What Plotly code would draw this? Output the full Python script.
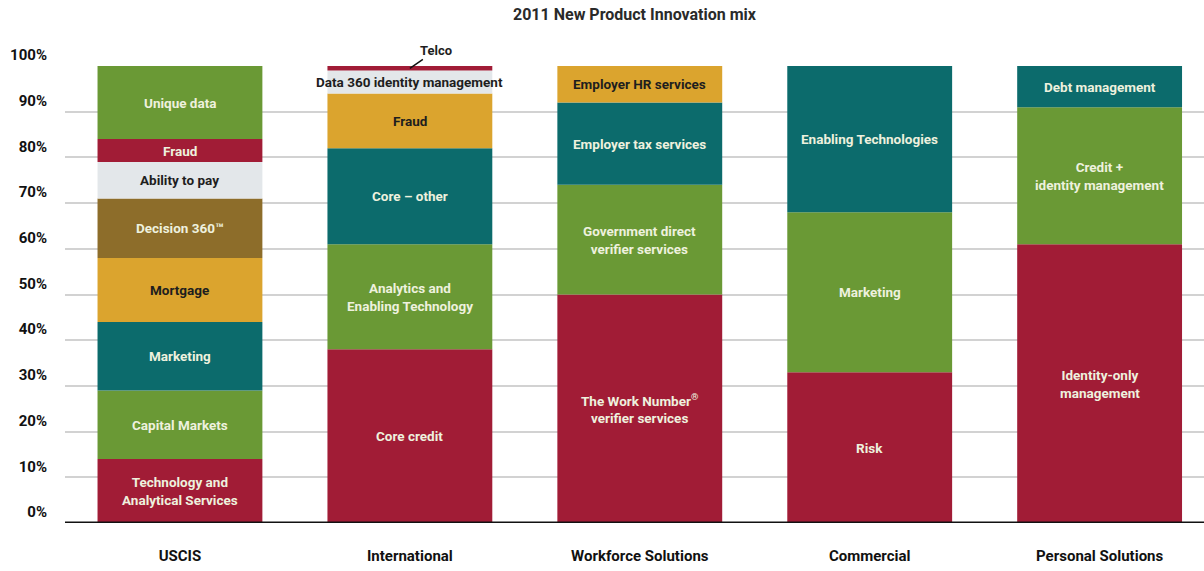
import plotly.graph_objects as go

# Business units along the x axis
categories = ["USCIS", "International", "Workforce Solutions", "Commercial", "Personal Solutions"]

# Segments of each stacked bar, listed bottom to top (percent of the unit's mix)
uscis_labels = ["Technology and<br>Analytical Services", "Capital Markets", "Marketing", "Mortgage",
                "Decision 360™", "Ability to pay", "Fraud", "Unique data"]
uscis_values = [14, 15, 15, 14, 13, 8, 5, 16]
uscis_colors = ["red", "green", "teal", "gold", "brown", "light", "red", "green"]

intl_labels = ["Core credit", "Analytics and<br>Enabling Technology", "Core – other", "Fraud",
               "Data 360 identity management", "Telco"]
intl_values = [38, 23, 21, 12, 5, 1]
intl_colors = ["red", "green", "teal", "gold", "light", "red"]

workforce_labels = ["The Work Number<sup>®</sup><br>verifier services", "Government direct<br>verifier services",
                    "Employer tax services", "Employer HR services"]
workforce_values = [50, 24, 18, 8]
workforce_colors = ["red", "green", "teal", "gold"]

commercial_labels = ["Risk", "Marketing", "Enabling Technologies"]
commercial_values = [33, 35, 32]
commercial_colors = ["red", "green", "teal"]

personal_labels = ["Identity-only<br>management", "Credit +<br>identity management", "Debt management"]
personal_values = [61, 30, 9]
personal_colors = ["red", "green", "teal"]

y_ticks = [0, 10, 20, 30, 40, 50, 60, 70, 80, 90, 100]
y_tick_text = [f"{v}%" for v in y_ticks]

palette = {
    "red": "#A11C36",
    "green": "#6A9935",
    "teal": "#0C6B6C",
    "gold": "#DBA42E",
    "brown": "#8D6D2A",
    "light": "#E3E7EA",
}
light_text = "#EEF1DE"
dark_text = "#1E1E1E"
dark_text_fills = {"gold", "light"}

FONT = "Roboto, Liberation Sans, sans-serif"

groups = [
    (categories[0], uscis_labels, uscis_values, uscis_colors),
    (categories[1], intl_labels, intl_values, intl_colors),
    (categories[2], workforce_labels, workforce_values, workforce_colors),
    (categories[3], commercial_labels, commercial_values, commercial_colors),
    (categories[4], personal_labels, personal_values, personal_colors),
]

fig = go.Figure()
annotations = []

for cat, labels, values, colors in groups:
    base = 0
    for lab, val, col in zip(labels, values, colors):
        fig.add_trace(go.Bar(
            x=[cat], y=[val], base=[base],
            marker=dict(color=palette[col], line=dict(width=0)),
            width=0.717, showlegend=False, hoverinfo="skip",
        ))
        mid = base + val / 2
        tcol = dark_text if col in dark_text_fills else light_text
        if lab == "Telco":
            # Tiny top segment gets a callout above the bar
            annotations.append(dict(
                x=cat, y=mid, xref="x", yref="y", text=lab,
                showarrow=True, arrowhead=0, arrowwidth=1.5, arrowcolor="#111",
                ax=26, ay=-18, font=dict(family=FONT, size=13, weight="bold", color=dark_text),
            ))
        else:
            annotations.append(dict(
                x=cat, y=mid, xref="x", yref="y", text=lab, showarrow=False,
                font=dict(family=FONT, size=13.5, weight="bold", color=tcol),
            ))
        base += val

annotations.append(dict(
    x=0.5, y=1, xref="paper", yref="paper", yshift=63, yanchor="top",
    text="2011 New Product Innovation mix", showarrow=False,
    font=dict(family=FONT, size=16, weight="bold", color="#2a2a2a"),
))

fig.update_layout(
    barmode="overlay",
    width=1204, height=571,
    margin=dict(l=65, r=0, t=66, b=48),
    paper_bgcolor="white", plot_bgcolor="white",
    font=dict(family=FONT, color="#222"),
    annotations=annotations,
    shapes=[dict(type="line", xref="paper", yref="y", x0=0, x1=1, y0=0, y1=0,
                 line=dict(color="#111", width=3), layer="above")],
)

fig.update_xaxes(
    type="category", categoryorder="array", categoryarray=categories,
    range=[-0.5, 4.454], showgrid=False, zeroline=False, showline=False, ticks="",
    tickfont=dict(family=FONT, size=15, weight="bold", color="#111"), ticklabelstandoff=22,
)
fig.update_yaxes(
    range=[0, 100], tickvals=y_ticks, ticktext=y_tick_text,
    showgrid=True, gridcolor="#D2D2D2", gridwidth=2, zeroline=False, showline=False, ticks="",
    tickfont=dict(family=FONT, size=15, weight="bold", color="#111"),
    ticklabelshift=-11, ticklabelstandoff=17,
)

fig.write_html("out.html")
